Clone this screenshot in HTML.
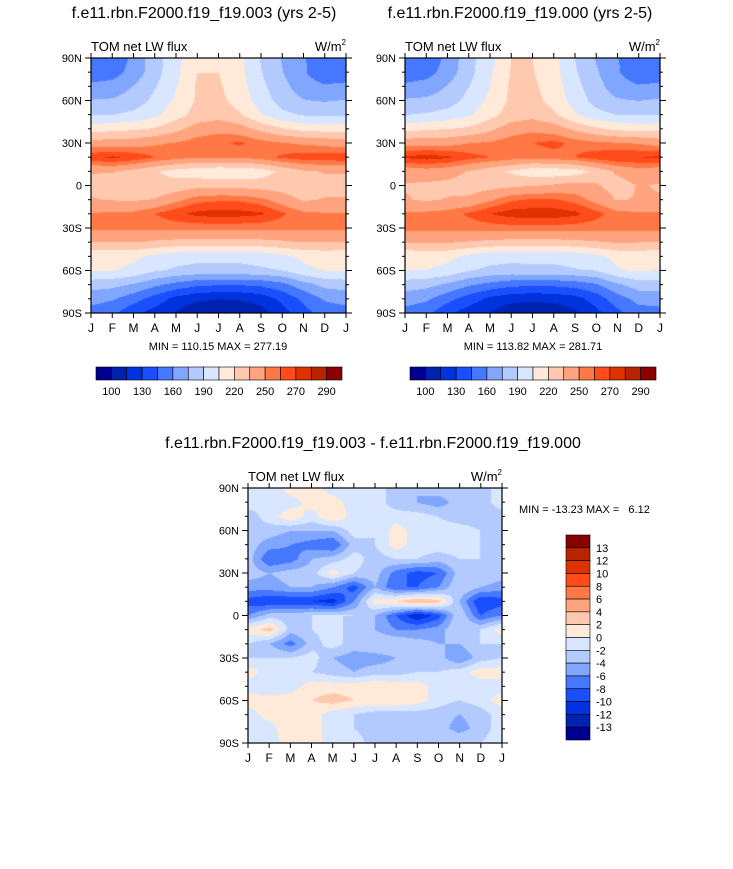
<!DOCTYPE html>
<html><head><meta charset="utf-8">
<style>
body{margin:0;background:#fff;width:733px;height:869px;position:relative;overflow:hidden;font-family:"Liberation Sans",sans-serif;}
canvas{position:absolute;}
svg{position:absolute;left:0;top:0;}
text{font-family:"Liberation Sans",sans-serif;fill:#000;white-space:pre;}
</style></head><body>
<canvas id="c1" width="255" height="255" style="left:91px;top:58px"></canvas>
<canvas id="c2" width="255" height="255" style="left:405px;top:58px"></canvas>
<canvas id="c3" width="254" height="255" style="left:248px;top:488px"></canvas>
<svg id="ov" width="733" height="869"></svg>
<script>
const months=["J","F","M","A","M","J","J","A","S","O","N","D","J"];
const latLabels=["90N","60N","30N","0","30S","60S","90S"];
const levelsAbs=[100,115,130,145,160,175,190,205,220,235,250,260,270,280,290];
const absTickLabels=["100","130","160","190","220","250","270","290"];
const levelsDiff=[-13,-12,-10,-8,-6,-4,-2,0,2,4,6,8,10,12,13];
const colors=["#000090","#0022b0","#0033dd","#1a4fff","#4578ff","#80a6ff","#b3caff","#d8e7ff","#ffe9d9","#ffc9b0","#ffa47e","#ff7845","#ff4c1a","#e03200","#b82400","#8a0000"];
// rows 90N..90S step 10, cols Jan..Dec
const dataA=[
[149,149,164,184,199,219,219,209,189,174,162,149],
[151,154,166,184,202,220,220,210,191,176,162,150],
[164,166,176,189,204,222,222,212,194,180,167,162],
[176,177,182,194,208,222,224,214,198,184,176,174],
[189,190,194,202,214,226,229,222,206,194,189,188],
[214,216,218,222,231,242,246,242,231,222,216,214],
[242,242,243,248,251,256,258,262,255,251,248,246],
[268,272,268,260,255,251,251,251,256,262,266,266],
[236,236,230,222,214,210,208,209,212,224,233,236],
[230,228,227,224,226,230,231,230,228,227,224,230],
[236,234,233,236,246,256,258,258,253,243,233,236],
[251,252,253,260,268,273,275,274,272,262,253,251],
[253,253,253,253,253,254,254,254,253,253,253,253],
[236,236,236,233,231,229,229,229,231,233,236,236],
[209,209,208,202,196,194,194,194,196,202,208,210],
[206,206,202,192,188,186,186,186,188,190,202,206],
[182,180,174,164,156,149,147,147,149,156,169,180],
[166,162,152,139,126,119,116,117,122,134,149,162],
[154,149,134,124,114,102,99,101,109,124,139,152]];
const dataB=[
[148,150,164,185,200,220,220,210,190,174,161,147],
[150,154,167,185,203,221,221,211,192,177,162,149],
[164,167,176,190,205,223,223,213,195,181,167,162],
[177,178,183,195,209,223,225,215,199,185,177,175],
[190,192,196,203,215,227,230,223,207,195,190,189],
[215,218,220,223,232,243,247,243,232,223,217,215],
[244,245,245,250,252,257,260,263,257,253,251,249],
[272,275,272,264,260,256,254,256,260,266,270,270],
[241,244,241,234,226,218,210,210,212,224,238,244],
[234,232,231,228,229,232,234,237,241,237,228,236],
[236,233,236,238,248,258,261,261,256,245,234,236],
[252,253,255,262,270,275,276,276,273,264,254,252],
[254,254,254,254,255,256,256,256,255,254,254,254],
[236,237,237,234,232,230,230,230,232,234,237,236],
[209,210,209,202,196,194,194,194,196,202,209,210],
[205,205,201,191,187,186,187,187,189,191,204,207],
[183,180,173,163,156,150,149,149,152,159,173,183],
[167,163,151,138,127,121,119,121,125,137,154,165],
[155,150,133,123,115,103,102,104,112,126,141,154]];
const dataD=[
[-1,-1.5,1,1,-1,-1,-1,-3,-4,-3,-3,-3],
[-1,-2,-1,1,1,-1,-1,-3,-4,-5,-3,-3],
[-3,-1,1.5,-1,2,-1,-1,-1,-1,-2,-3,-3],
[-3,-3,-4,-4,-4,-1,-2,1,-1,-1,-1,-2],
[-3,-5,-6,-7,-8,-3,-2,1,-1,-1,-1,-2],
[-3,-8,-7,-4,-3,-1,-3,-2,-2,-3,-2,-2],
[-3,-4,-3,-3,1,-2,-3,-7,-9,-8,-3,-2],
[-5,-5,-4,-4,-6,-9,-4,-8,-8,-6,-2,-4],
[-9,-10,-10,-10,-11,-6,1,2,4,3,-4,-10],
[-6,-3,-3,-2,-2,-2,-4,-8,-12,-9,-2,-8],
[1,3,-3,-2,-1,-3,-4,-6,-6,-5,-2,-2],
[-2,-4,-7,-3,-1,-3,-2,-2,-3,-4,-4,-2],
[-2,-2,-2,-1,-4,-5,-5,-4,-3,-3,-6,-3],
[1,-1,-2,-2,-3,-4,-3,-3,-2,-2,-1,1],
[-1,-2,-1,1,1,1,2,1,1,-1,-1,-1],
[1,1,1,2,3,2,2,2,1,-1,-2,-1],
[-1,1,1,1,-1,-2,-3,-3,-3,-3,-4,-3],
[-1,-1,2,1,-1,-2,-3,-4,-3,-3,-5,-3],
[-1,-1,1,1,-1,-1,-3,-3,-3,-2,-2,-2]];

function hex(c){return [parseInt(c.substr(1,2),16),parseInt(c.substr(3,2),16),parseInt(c.substr(5,2),16)];}
const rgb=colors.map(hex);
function draw(id,data,levels){
  const cv=document.getElementById(id),ctx=cv.getContext('2d');
  const W=cv.width,H=cv.height,img=ctx.createImageData(W,H);
  const nr=data.length,nc=data[0].length;
  for(let y=0;y<H;y++){
    const fr=y/(H-1)*(nr-1),r0=Math.min(Math.floor(fr),nr-2),tr=fr-r0;
    for(let x=0;x<W;x++){
      const fc=x/(W-1)*nc,c0=Math.min(Math.floor(fc),nc-1),tc=fc-c0,c1=(c0+1)%nc;
      const v=(data[r0][c0]*(1-tc)+data[r0][c1]*tc)*(1-tr)+(data[r0+1][c0]*(1-tc)+data[r0+1][c1]*tc)*tr;
      let k=0;while(k<levels.length&&v>=levels[k])k++;
      const p=(y*W+x)*4,col=rgb[k];
      img.data[p]=col[0];img.data[p+1]=col[1];img.data[p+2]=col[2];img.data[p+3]=255;
    }
  }
  ctx.putImageData(img,0,0);
}
draw('c1',dataA,levelsAbs);draw('c2',dataB,levelsAbs);draw('c3',dataD,levelsDiff);

const NS="http://www.w3.org/2000/svg",ov=document.getElementById('ov');
function el(tag,attrs,txt){const e=document.createElementNS(NS,tag);for(const k in attrs)e.setAttribute(k,attrs[k]);if(txt!==undefined)e.textContent=txt;ov.appendChild(e);return e;}
function panel(x0,y0,w,h,title,tx,name){
  const t=el('text',{x:tx,y:y0-40,'font-size':16,'text-anchor':'middle'},title);
  
  
  const s=el('text',{x:x0,y:y0-7,'font-size':13},'TOM net LW flux');
  
  
  const u=el('text',{x:x0+w,y:y0-7,'font-size':13,'text-anchor':'end'});
  u.innerHTML='W/m<tspan font-size="8" dy="-6">2</tspan>';
  
  
  const b=el('rect',{x:x0,y:y0,width:w,height:h,fill:'none',stroke:'#000','stroke-width':1.2});
  
  
  for(let i=0;i<=12;i++){
    const x=x0+w*i/12;
    el('line',{x1:x,x2:x,y1:y0,y2:y0-5,stroke:'#000'});
    el('line',{x1:x,x2:x,y1:y0+h,y2:y0+h+5,stroke:'#000'});
    const l=el('text',{x:x,y:y0+h+19,'font-size':12,'text-anchor':'middle'},months[i]);
    
    
  }
  for(let i=0;i<=18;i++){
    const y=y0+h*i/18,len=i%3==0?6:3;
    el('line',{x1:x0,x2:x0-len,y1:y,y2:y,stroke:'#000'});
    el('line',{x1:x0+w,x2:x0+w+len,y1:y,y2:y,stroke:'#000'});
    if(i%3==0){
      const l=el('text',{x:x0-9,y:y+4,'font-size':11,'text-anchor':'end'},latLabels[i/3]);
      
      
    }
  }
}
panel(91,58,255,255,'f.e11.rbn.F2000.f19_f19.003 (yrs 2-5)',204,'left');
panel(405,58,255,255,'f.e11.rbn.F2000.f19_f19.000 (yrs 2-5)',520,'right');
panel(248,488,254,255,'f.e11.rbn.F2000.f19_f19.003 - f.e11.rbn.F2000.f19_f19.000',373,'diff');
let m=el('text',{x:218,y:350,'font-size':11,'text-anchor':'middle'},'MIN = 110.15 MAX = 277.19');

m=el('text',{x:533,y:350,'font-size':11,'text-anchor':'middle'},'MIN = 113.82 MAX = 281.71');

m=el('text',{x:519,y:513,'font-size':11},'MIN = -13.23 MAX =   6.12');


function hbar(x0,name){
  const w=246/16;
  for(let i=0;i<16;i++){
    const r=el('rect',{x:x0+i*w,y:367,width:w,height:13,fill:colors[i],stroke:'#000','stroke-width':0.6});
    
    
  }
  for(let j=0;j<absTickLabels.length;j++){
    const t=el('text',{x:x0+(1+2*j)*w,y:395,'font-size':11,'text-anchor':'middle'},absTickLabels[j]);
    
    
  }
}
hbar(96,'left');hbar(410,'right');
const bh=205/16;
for(let i=0;i<16;i++){
  const r=el('rect',{x:566,y:535+i*bh,width:24,height:bh,fill:colors[15-i],stroke:'#000','stroke-width':0.6});
  
  
}
for(let j=0;j<levelsDiff.length;j++){
  const t=el('text',{x:596,y:535+(j+1)*bh+4,'font-size':11},String(levelsDiff[levelsDiff.length-1-j]));
  
  
}
</script>
</body></html>
